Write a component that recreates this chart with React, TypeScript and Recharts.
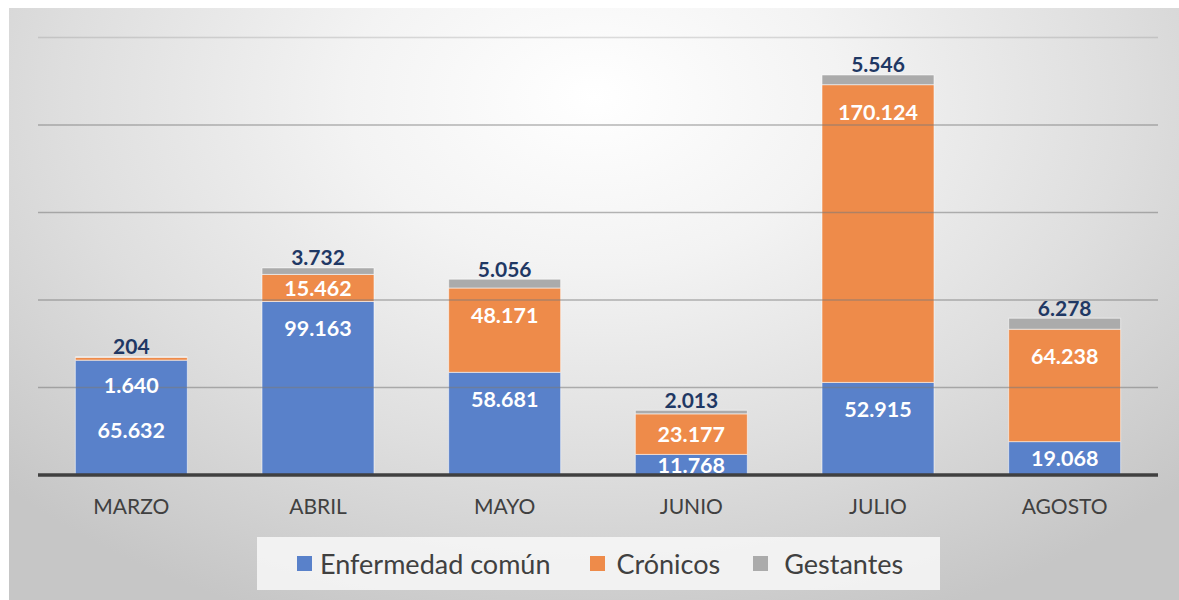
import { Bar, BarChart, LabelList, ReferenceLine, XAxis, YAxis } from "recharts";

const months = ["MARZO", "ABRIL", "MAYO", "JUNIO", "JULIO", "AGOSTO"];
const enfermedadComun = [65632, 99163, 58681, 11768, 52915, 19068];
const cronicos = [1640, 15462, 48171, 23177, 170124, 64238];
const gestantes = [204, 3732, 5056, 2013, 5546, 6278];
const gridValues = [50000, 100000, 150000, 200000, 250000];

const BLUE = "#5981CA";
const ORANGE = "#EE8B4A";
const GRAY = "#ABABAB";
const FONT = "Lato, 'Open Sans', sans-serif";

const data = months.map((m, i) => ({
  month: m,
  comun: enfermedadComun[i],
  cronicos: cronicos[i],
  gestantes: gestantes[i],
}));

const fmt = (v: number) => String(v).replace(/\B(?=(\d{3})+(?!\d))/g, ".");

function InnerLabel(props: any) {
  const { x, y, width, height, value, index, pushDown } = props;
  let cy = y + Math.min(height / 2, 27);
  if (height < 10) cy = y + 28;
  if (pushDown && cronicos[index] < 5000) cy = y + 70;
  return (
    <text
      x={x + width / 2}
      y={cy}
      textAnchor="middle"
      dominantBaseline="central"
      fill="#ffffff"
      fontFamily={FONT}
      fontWeight={700}
      fontSize={21.5}
    >
      {fmt(value)}
    </text>
  );
}

function TopLabel(props: any) {
  const { x, y, width, value } = props;
  return (
    <text
      x={x + width / 2}
      y={y - 11}
      textAnchor="middle"
      dominantBaseline="central"
      fill="#1F3864"
      fontFamily={FONT}
      fontWeight={700}
      fontSize={21}
    >
      {fmt(value)}
    </text>
  );
}

const legendItems = [
  { label: "Enfermedad común", color: BLUE, before: 40, gap: 8 },
  { label: "Crónicos", color: ORANGE, before: 39, gap: 12 },
  { label: "Gestantes", color: GRAY, before: 33, gap: 16 },
];

export default function App() {
  return (
    <div
      style={{
        position: "absolute",
        left: 0,
        top: 0,
        width: 1179,
        height: 600,
        background: "#ffffff",
        overflow: "hidden",
      }}
    >
      <div
        style={{
          position: "absolute",
          left: 9,
          top: 8,
          width: 1170,
          height: 592,
          background:
            "radial-gradient(ellipse 70% 95% at 50% 15%, #ffffff 0%, #f3f3f3 30%, #dedede 65%, #c6c6c6 100%)",
        }}
      />
      <div style={{ position: "absolute", left: 0, top: 0 }}>
        <BarChart
          width={1179}
          height={600}
          data={data}
          margin={{ top: 37.5, right: 21, left: 38, bottom: 85 }}
          barCategoryGap="20%"
        >
          <XAxis
            dataKey="month"
            axisLine={false}
            tickLine={false}
            height={40}
            tickMargin={18}
            tick={{ fontSize: 21, fill: "#404040", fontFamily: FONT }}
          />
          <YAxis hide domain={[0, 250000]} ticks={gridValues} />
          <Bar
            dataKey="comun"
            stackId="a"
            fill={BLUE}
            stroke="rgba(255,255,255,0.55)"
            strokeWidth={1}
            isAnimationActive={false}
          >
            <LabelList dataKey="comun" content={(p: any) => <InnerLabel {...p} pushDown />} />
          </Bar>
          <Bar
            dataKey="cronicos"
            stackId="a"
            fill={ORANGE}
            stroke="rgba(255,255,255,0.55)"
            strokeWidth={1}
            isAnimationActive={false}
          >
            <LabelList dataKey="cronicos" content={(p: any) => <InnerLabel {...p} />} />
          </Bar>
          <Bar
            dataKey="gestantes"
            stackId="a"
            fill={GRAY}
            stroke="rgba(255,255,255,0.55)"
            strokeWidth={1}
            isAnimationActive={false}
          >
            <LabelList dataKey="gestantes" content={(p: any) => <TopLabel {...p} />} />
          </Bar>
          {gridValues.map((v) => (
            <ReferenceLine
              key={v}
              y={v}
              stroke="#7a7a7a"
              strokeOpacity={v === 250000 ? 0.25 : 0.55}
              strokeWidth={1.3}
            />
          ))}
          <ReferenceLine y={0} stroke="#404040" strokeWidth={3.5} />
        </BarChart>
      </div>
      <div
        style={{
          position: "absolute",
          left: 257,
          top: 537,
          width: 683,
          height: 53,
          background: "rgba(248,248,248,0.85)",
          display: "flex",
          alignItems: "center",
          fontFamily: FONT,
          fontSize: 27,
          color: "#404040",
        }}
      >
        {legendItems.map((it) => (
          <div
            key={it.label}
            style={{
              display: "flex",
              alignItems: "center",
              marginLeft: it.before,
            }}
          >
            <span
              style={{
                display: "inline-block",
                width: 15,
                height: 15,
                background: it.color,
                marginRight: it.gap,
              }}
            />
            <span>{it.label}</span>
          </div>
        ))}
      </div>
    </div>
  );
}
